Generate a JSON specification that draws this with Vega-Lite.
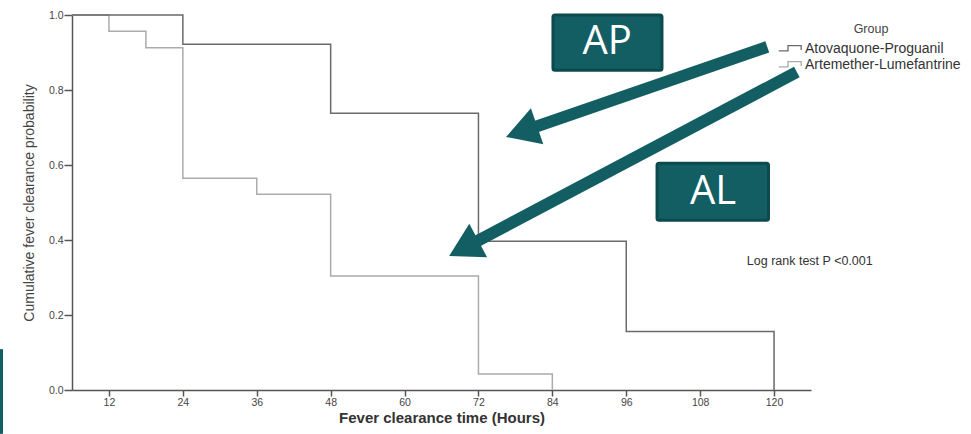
{
  "$schema": "https://vega.github.io/schema/vega-lite/v6.json",
  "width": 739,
  "height": 375,
  "autosize": {"type": "none"},
  "padding": {"left": 72, "top": 15, "right": 160, "bottom": 44},
  "background": "white",
  "config": {
    "view": {"stroke": null},
    "font": "Liberation Sans",
    "axis": {"grid": false, "domainColor": "#555", "domainWidth": 1.5, "tickColor": "#555", "tickWidth": 1.5, "labelColor": "#444", "labelFontSize": 10.5, "titleColor": "#333"}
  },
  "datasets": {
    "km": [
      {"group": "Artemether-Lumefantrine", "t": 6, "p": 1.0},
      {"group": "Artemether-Lumefantrine", "t": 12, "p": 0.957},
      {"group": "Artemether-Lumefantrine", "t": 18, "p": 0.913},
      {"group": "Artemether-Lumefantrine", "t": 24, "p": 0.565},
      {"group": "Artemether-Lumefantrine", "t": 36, "p": 0.522},
      {"group": "Artemether-Lumefantrine", "t": 48, "p": 0.304},
      {"group": "Artemether-Lumefantrine", "t": 72, "p": 0.043},
      {"group": "Artemether-Lumefantrine", "t": 84, "p": 0.0},
      {"group": "Atovaquone-Proguanil", "t": 6, "p": 1.0},
      {"group": "Atovaquone-Proguanil", "t": 24, "p": 0.922},
      {"group": "Atovaquone-Proguanil", "t": 48, "p": 0.738},
      {"group": "Atovaquone-Proguanil", "t": 72, "p": 0.397},
      {"group": "Atovaquone-Proguanil", "t": 96, "p": 0.156},
      {"group": "Atovaquone-Proguanil", "t": 120, "p": 0.0}
    ],
    "boxes": [
      {"label": "AP", "t": 84.1, "t2": 101.8, "p": 1.0, "p2": 0.853, "tc": 92.9, "pc": 0.927},
      {"label": "AL", "t": 101.0, "t2": 119.1, "p": 0.6045, "p2": 0.453, "tc": 110.1, "pc": 0.529}
    ],
    "arrows": [
      {"arrow": "AP", "t": 118.9, "p": 0.915, "t2": 79.0, "p2": 0.689},
      {"arrow": "AL", "t": 123.7, "p": 0.848, "t2": 69.6, "p2": 0.378}
    ],
    "note": [{"text": "Log rank test P <0.001", "t": 125.8, "p": 0.344}],
    "strip": [{"t": -5.45, "p": 0.109, "p2": -0.117}]
  },
  "layer": [
    {
      "data": {"name": "km"},
      "mark": {"type": "line", "interpolate": "step-after", "strokeWidth": 1.5},
      "encoding": {
        "x": {"field": "t", "type": "quantitative", "scale": {"domain": [6, 126], "nice": false, "zero": false},
              "axis": {"values": [12, 24, 36, 48, 60, 72, 84, 96, 108, 120], "format": "d", "tickSize": 6, "labelPadding": 1, "title": "Fever clearance time (Hours)", "titleFontSize": 15, "titleFontWeight": "bold", "titlePadding": 3}},
        "y": {"field": "p", "type": "quantitative", "scale": {"domain": [0, 1], "nice": false},
              "axis": {"values": [0, 0.2, 0.4, 0.6, 0.8, 1.0], "format": ".1f", "tickSize": 8, "labelPadding": 1, "title": "Cumulative fever clearance probability", "titleFontSize": 14, "titleFontWeight": "normal", "titleColor": "#444", "titlePadding": 12}},
        "color": {"field": "group", "type": "nominal",
                  "scale": {"domain": ["Atovaquone-Proguanil", "Artemether-Lumefantrine"], "range": ["#6a6a6a", "#ababab"]},
                  "legend": {"orient": "none", "legendX": 709, "legendY": 8, "title": "Group", "titleAnchor": "middle", "titleFontSize": 12.5, "titleFontWeight": "normal", "titleColor": "#444", "titlePadding": 4, "labelFontSize": 14, "labelColor": "#333", "labelOffset": 6, "symbolType": "M -1.4 0.3 H -0.25 V -0.35 H 1.4 V 0.2", "symbolSize": 256, "symbolStrokeWidth": 1.3, "symbolFillColor": "transparent", "rowPadding": 0}}
      }
    },
    {
      "data": {"name": "arrows"},
      "mark": {"type": "rule", "color": "#135e63", "strokeWidth": 12, "strokeCap": "butt"},
      "encoding": {
        "x": {"field": "t", "type": "quantitative"},
        "y": {"field": "p", "type": "quantitative"},
        "x2": {"field": "t2"},
        "y2": {"field": "p2"}
      }
    },
    {
      "data": {"name": "arrows"},
      "transform": [{"filter": "datum.arrow === 'AP'"}],
      "mark": {"type": "point", "shape": "triangle-up", "filled": true, "color": "#135e63", "opacity": 1, "size": 1444, "angle": 251},
      "encoding": {
        "x": {"field": "t2", "type": "quantitative"},
        "y": {"field": "p2", "type": "quantitative"}
      }
    },
    {
      "data": {"name": "arrows"},
      "transform": [{"filter": "datum.arrow === 'AL'"}],
      "mark": {"type": "point", "shape": "triangle-up", "filled": true, "color": "#135e63", "opacity": 1, "size": 1444, "angle": 242},
      "encoding": {
        "x": {"field": "t2", "type": "quantitative"},
        "y": {"field": "p2", "type": "quantitative"}
      }
    },
    {
      "data": {"name": "boxes"},
      "mark": {"type": "rect", "fill": "#135e63", "stroke": "#0c4a4e", "strokeWidth": 3, "cornerRadius": 2},
      "encoding": {
        "x": {"field": "t", "type": "quantitative"},
        "x2": {"field": "t2"},
        "y": {"field": "p", "type": "quantitative"},
        "y2": {"field": "p2"}
      }
    },
    {
      "data": {"name": "boxes"},
      "mark": {"type": "text", "color": "white", "font": "Open Sans", "fontSize": 40, "align": "center", "baseline": "middle"},
      "encoding": {
        "x": {"field": "tc", "type": "quantitative"},
        "y": {"field": "pc", "type": "quantitative"},
        "text": {"field": "label"}
      }
    },
    {
      "data": {"name": "note"},
      "mark": {"type": "text", "color": "#333", "fontSize": 12.5, "align": "center", "baseline": "middle"},
      "encoding": {
        "x": {"field": "t", "type": "quantitative"},
        "y": {"field": "p", "type": "quantitative"},
        "text": {"field": "text"}
      }
    },
    {
      "data": {"name": "strip"},
      "mark": {"type": "rule", "color": "#135e63", "strokeWidth": 3},
      "encoding": {
        "x": {"field": "t", "type": "quantitative"},
        "y": {"field": "p", "type": "quantitative"},
        "y2": {"field": "p2"}
      }
    }
  ]
}
